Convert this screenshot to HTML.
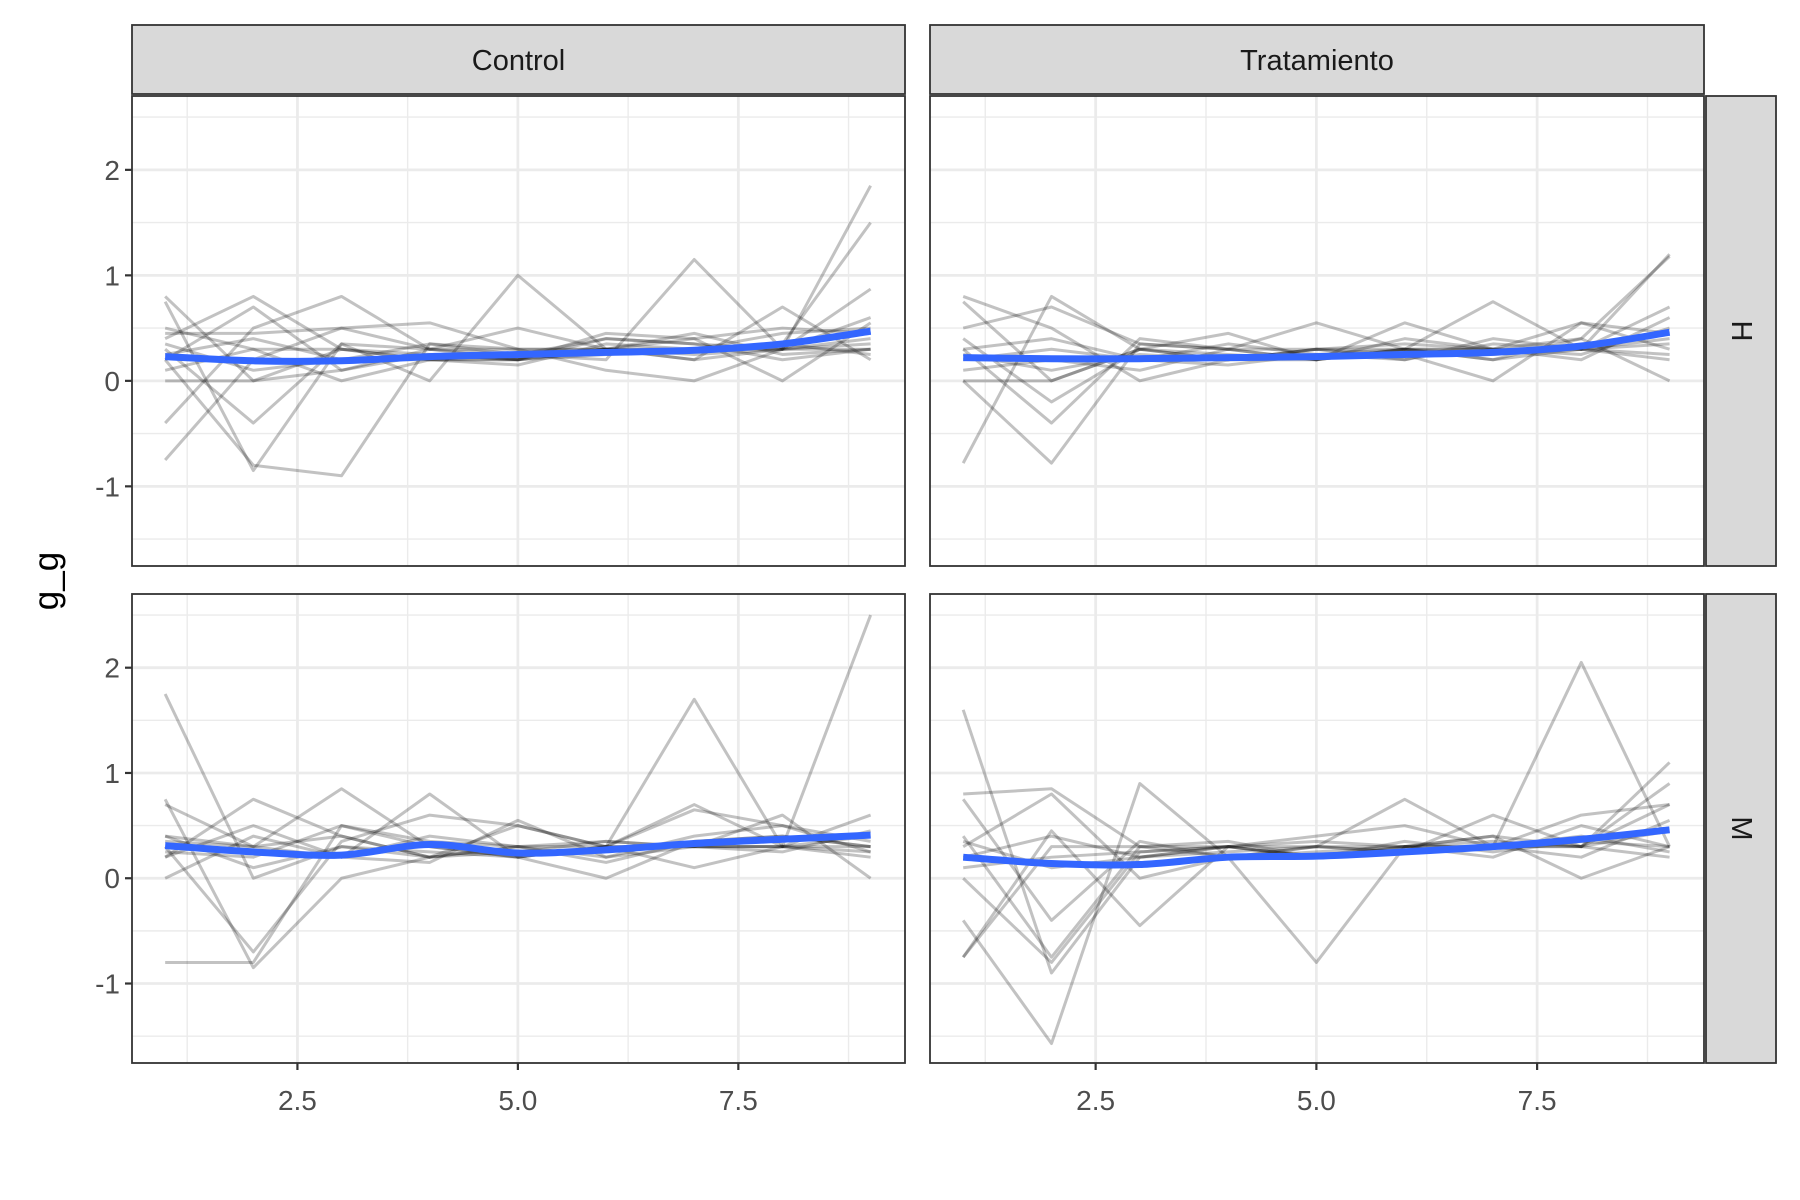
<!DOCTYPE html>
<html><head><meta charset="utf-8"><style>
body{margin:0;background:#fff}
svg{display:block;font-family:"Liberation Sans",Arial,sans-serif}
</style></head><body>
<svg id="chart" width="1800" height="1200" viewBox="0 0 1800 1200" xmlns="http://www.w3.org/2000/svg"></svg>
<script>
const xValues=[1,2,3,4,5,6,7,8,9];
const colLabels=["Control","Tratamiento"];
const rowLabels=["H","M"];
const yTicks=[-1,0,1,2];
const yTickLabels=["-1","0","1","2"];
const xTicks=[2.5,5,7.5];
const xTickLabels=["2.5","5.0","7.5"];
const controlH=[
[0.8,0.0,0.3,0.2,0.2,0.3,0.25,0.3,0.3],
[-0.75,0.2,0.5,0.3,0.25,0.4,0.35,0.3,1.85],
[0.75,-0.85,0.35,0.3,0.2,0.25,0.3,0.35,1.5],
[0.2,-0.8,-0.9,0.35,0.3,0.3,0.3,0.3,0.87],
[0.4,0.8,0.3,0.2,0.2,0.4,0.35,0.2,0.3],
[-0.4,0.5,0.8,0.3,0.3,0.3,0.3,0.45,0.5],
[0.3,-0.4,0.35,0.0,1.0,0.3,0.2,0.3,0.4],
[0.1,0.3,0.0,0.2,0.25,0.2,1.15,0.3,0.35],
[0.45,0.45,0.5,0.55,0.3,0.1,0.0,0.3,0.6],
[0.0,0.0,0.1,0.3,0.5,0.3,0.2,0.7,0.2],
[0.2,0.7,0.1,0.25,0.2,0.45,0.4,0.0,0.55],
[0.5,0.3,0.3,0.25,0.2,0.3,0.45,0.25,0.3],
[0.35,0.1,0.2,0.2,0.15,0.35,0.3,0.35,0.25],
[0.25,0.4,0.2,0.35,0.25,0.3,0.4,0.5,0.45]];
const tratH=[
[-0.78,0.8,0.3,0.2,0.2,0.3,0.25,0.3,1.2],
[0.8,0.5,0.0,0.2,0.3,0.3,0.2,0.4,1.18],
[0.75,0.0,0.3,0.25,0.2,0.4,0.3,0.4,0.0],
[0.0,-0.78,0.35,0.3,0.55,0.3,0.3,0.3,0.7],
[0.3,-0.4,0.4,0.3,0.2,0.55,0.3,0.25,0.5],
[0.0,0.0,0.3,0.45,0.2,0.3,0.75,0.3,0.4],
[0.4,-0.2,0.3,0.2,0.3,0.25,0.0,0.55,0.3],
[0.2,0.3,0.2,0.15,0.25,0.3,0.3,0.2,0.6],
[0.5,0.7,0.35,0.3,0.3,0.2,0.35,0.3,0.35],
[0.1,0.2,0.1,0.3,0.2,0.3,0.2,0.3,0.25],
[0.25,0.1,0.25,0.2,0.3,0.35,0.3,0.55,0.45],
[0.3,0.4,0.2,0.35,0.25,0.2,0.4,0.3,0.2]];
const controlM=[
[1.75,0.0,0.3,0.2,0.3,0.3,0.3,0.3,2.5],
[-0.8,-0.8,0.5,0.3,0.2,0.3,1.7,0.3,0.3],
[0.75,-0.85,0.0,0.2,0.3,0.2,0.3,0.6,0.0],
[0.2,0.75,0.4,0.2,0.5,0.3,0.1,0.3,0.6],
[0.4,0.3,0.85,0.3,0.2,0.0,0.35,0.4,0.3],
[0.0,0.4,0.2,0.8,0.2,0.3,0.7,0.3,0.25],
[0.3,-0.7,0.35,0.6,0.5,0.3,0.65,0.5,0.35],
[0.7,0.3,0.2,0.15,0.55,0.2,0.4,0.5,0.25],
[0.25,0.2,0.5,0.35,0.3,0.35,0.3,0.25,0.45],
[0.4,0.1,0.3,0.25,0.2,0.3,0.3,0.3,0.2],
[0.2,0.5,0.2,0.4,0.3,0.15,0.35,0.4,0.3],
[0.35,0.3,0.4,0.2,0.25,0.35,0.3,0.3,0.4]];
const tratM=[
[1.6,-0.9,0.2,0.3,0.2,0.3,0.3,2.05,0.3],
[0.8,0.85,0.3,0.2,-0.8,0.3,0.3,0.3,1.1],
[-0.75,0.45,-0.45,0.3,0.3,0.75,0.3,0.3,0.9],
[-0.4,-1.57,0.9,0.2,0.3,0.25,0.6,0.3,0.7],
[0.4,-0.75,0.3,0.3,0.35,0.3,0.4,0.0,0.3],
[0.0,-0.8,0.25,0.3,0.4,0.5,0.3,0.6,0.7],
[0.3,0.8,0.0,0.2,0.25,0.3,0.4,0.3,0.2],
[0.75,-0.4,0.35,0.2,0.3,0.3,0.2,0.5,0.3],
[0.2,0.4,0.2,0.3,0.2,0.3,0.35,0.3,0.45],
[-0.75,0.3,0.3,0.35,0.2,0.25,0.3,0.4,0.25],
[0.35,0.1,0.2,0.25,0.3,0.25,0.3,0.2,0.55],
[0.1,0.2,0.25,0.3,0.2,0.35,0.25,0.35,0.3]];
const smoothControlH=[0.23,0.19,0.19,0.23,0.25,0.27,0.29,0.35,0.47];
const smoothTratH=[0.22,0.21,0.21,0.22,0.23,0.25,0.27,0.33,0.46];
const smoothControlM=[0.31,0.25,0.22,0.32,0.24,0.27,0.33,0.37,0.41];
const smoothTratM=[0.2,0.14,0.13,0.2,0.21,0.25,0.3,0.37,0.46];

const svg=document.getElementById('chart');
const NS="http://www.w3.org/2000/svg";
function mk(tag,attrs,parent){const e=document.createElementNS(NS,tag);for(const k in attrs)e.setAttribute(k,attrs[k]);(parent||svg).appendChild(e);return e;}
const panelsX=[[132,905],[930,1704]];
const panelsY=[[96,566],[594,1063]];
const xMin=0.624,xMax=9.39,yMin=-1.755,yMax=2.7;
function sx(c,v){const[a,b]=panelsX[c];return a+(v-xMin)/(xMax-xMin)*(b-a);}
function sy(r,v){const[a,b]=panelsY[r];return b-(v-yMin)/(yMax-yMin)*(b-a);}
const data=[[controlH,tratH],[controlM,tratM]];
const smooth=[[smoothControlH,smoothTratH],[smoothControlM,smoothTratM]];
function smoothPath(pts){let d=`M${pts[0][0]},${pts[0][1]}`;for(let i=0;i<pts.length-1;i++){const p0=pts[Math.max(0,i-1)],p1=pts[i],p2=pts[i+1],p3=pts[Math.min(pts.length-1,i+2)];const c1=[p1[0]+(p2[0]-p0[0])/6,p1[1]+(p2[1]-p0[1])/6],c2=[p2[0]-(p3[0]-p1[0])/6,p2[1]-(p3[1]-p1[1])/6];d+=` C${c1[0]},${c1[1]} ${c2[0]},${c2[1]} ${p2[0]},${p2[1]}`;}return d;}

for(let r=0;r<2;r++)for(let c=0;c<2;c++){
  const[x0,x1]=panelsX[c],[y0,y1]=panelsY[r];
  const g=mk('g',{});
  
  
  mk('rect',{x:x0,y:y0,width:x1-x0,height:y1-y0,fill:'#fff'},g);
  [-1.5,-0.5,0.5,1.5,2.5].forEach(v=>mk('line',{x1:x0,x2:x1,y1:sy(r,v),y2:sy(r,v),stroke:'#ebebeb','stroke-width':1.4},g));
  [1.25,3.75,6.25,8.75].forEach(v=>mk('line',{x1:sx(c,v),x2:sx(c,v),y1:y0,y2:y1,stroke:'#ebebeb','stroke-width':1.4},g));
  yTicks.forEach(v=>mk('line',{x1:x0,x2:x1,y1:sy(r,v),y2:sy(r,v),stroke:'#ebebeb','stroke-width':2.8},g));
  xTicks.forEach(v=>mk('line',{x1:sx(c,v),x2:sx(c,v),y1:y0,y2:y1,stroke:'#ebebeb','stroke-width':2.8},g));
  data[r][c].forEach((s,i)=>{
    const p=mk('polyline',{points:s.map((v,j)=>sx(c,xValues[j])+','+sy(r,v)).join(' '),fill:'none',stroke:'#000','stroke-opacity':0.24,'stroke-width':3,'stroke-linejoin':'round'},g);
    
    
  });
  const sp=mk('path',{d:smoothPath(smooth[r][c].map((v,j)=>[sx(c,xValues[j]),sy(r,v)])),fill:'none',stroke:'#3366FF','stroke-width':7,'stroke-linecap':'butt'},g);
  
  
  mk('rect',{x:x0,y:y0,width:x1-x0,height:y1-y0,fill:'none',stroke:'#333','stroke-width':1.8},g);
  if(c===0){yTicks.forEach((v,i)=>{mk('line',{x1:x0-7,x2:x0,y1:sy(r,v),y2:sy(r,v),stroke:'#333','stroke-width':2.2});
    const t=mk('text',{x:x0-12,y:sy(r,v)+10,'text-anchor':'end','font-size':28,fill:'#4d4d4d'});t.textContent=yTickLabels[i];
    });}
  if(r===1){xTicks.forEach((v,i)=>{mk('line',{x1:sx(c,v),x2:sx(c,v),y1:y1,y2:y1+7,stroke:'#333','stroke-width':2.2});
    const t=mk('text',{x:sx(c,v),y:1110,'text-anchor':'middle','font-size':28,fill:'#4d4d4d'});t.textContent=xTickLabels[i];
    });}
}
colLabels.forEach((l,c)=>{const[x0,x1]=panelsX[c];
  const s=mk('rect',{x:x0,y:25,width:x1-x0,height:69,fill:'#d9d9d9',stroke:'#333','stroke-width':1.8});
  
  const t=mk('text',{x:(x0+x1)/2,y:70,'text-anchor':'middle','font-size':29,fill:'#1a1a1a'});t.textContent=l;
  });
rowLabels.forEach((l,r)=>{const[y0,y1]=panelsY[r];
  const s=mk('rect',{x:1706,y:y0,width:70,height:y1-y0,fill:'#d9d9d9',stroke:'#333','stroke-width':1.8});
  
  const cy=(y0+y1)/2;
  const t=mk('text',{x:1741,y:cy,'text-anchor':'middle','dominant-baseline':'central','font-size':29,fill:'#1a1a1a',transform:`rotate(90 1741 ${cy})`});t.textContent=l;
  });
const yt=mk('text',{x:58,y:581,'text-anchor':'middle','font-size':35,fill:'#000',transform:'rotate(-90 58 581)'});yt.textContent='g_g';

</script>
</body></html>
